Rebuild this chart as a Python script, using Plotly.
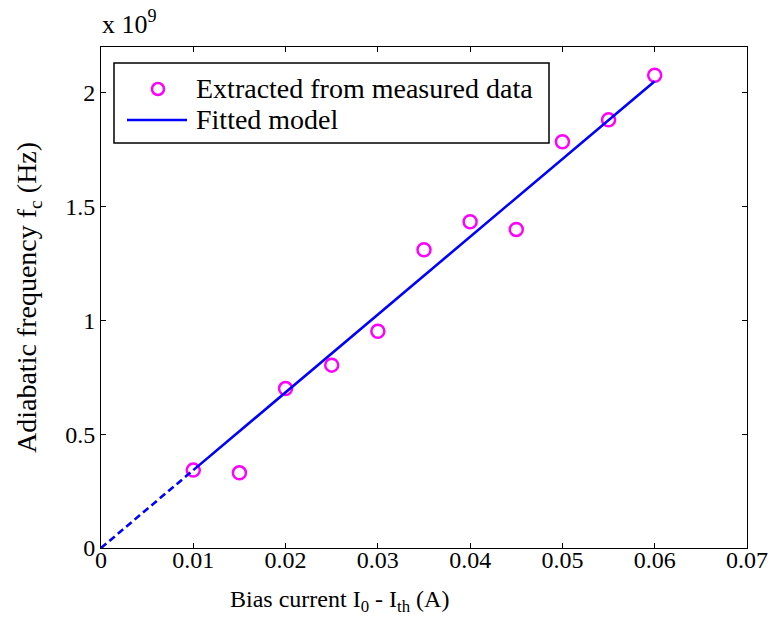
import plotly.graph_objects as go

# Measured adiabatic frequency versus bias current above threshold
current = [0.010, 0.015, 0.020, 0.025, 0.030, 0.035, 0.040, 0.045, 0.050, 0.055, 0.060]
fc_ghz = [0.342, 0.330, 0.700, 0.803, 0.952, 1.310, 1.433, 1.399, 1.784, 1.880, 2.076]  # x 1e9 Hz

# Linear model through the origin: extrapolated part (dashed) and fitted range (solid)
ext_current = [0.0, 0.010]
ext_fc = [0.0, 0.342]
fit_current = [0.010, 0.060]
fit_fc = [0.342, 2.050]

x_ticks = [0, 0.01, 0.02, 0.03, 0.04, 0.05, 0.06, 0.07]
x_ticktext = ["0", "0.01", "0.02", "0.03", "0.04", "0.05", "0.06", "0.07"]
y_ticks = [0, 0.5, 1, 1.5, 2]
y_ticktext = ["0", "0.5", "1", "1.5", "2"]

FONT = "Liberation Serif"
BLUE = "#0000FF"
MAGENTA = "#FF00FF"

W, H = 773, 625
L, R, T, B = 101, 26, 47, 77
PW, PH = W - L - R, H - T - B


def px(x):
    return (x - L) / PW


def py(y):
    return (H - B - y) / PH


fig = go.Figure()
fig.add_trace(go.Scatter(
    x=current, y=fc_ghz, mode="markers", name="Extracted from measured data",
    marker=dict(symbol="circle-open", size=13, color=MAGENTA, line=dict(width=2.5, color=MAGENTA)),
    showlegend=False,
))
fig.add_trace(go.Scatter(
    x=fit_current, y=fit_fc, mode="lines", name="Fitted model",
    line=dict(color=BLUE, width=2.6), showlegend=False,
))
fig.add_trace(go.Scatter(
    x=ext_current, y=ext_fc, mode="lines",
    line=dict(color=BLUE, width=2.6, dash="7px,4px"), showlegend=False,
))

axis_common = dict(
    showline=True, linecolor="black", linewidth=1, mirror="allticks",
    ticks="inside", ticklen=5, tickcolor="black", tickwidth=1,
    showgrid=False, zeroline=False, automargin=False,
    tickfont=dict(family=FONT, size=24, color="black"),
)
fig.update_xaxes(range=[0, 0.07], tickvals=x_ticks, ticktext=x_ticktext,
                 ticklabelstandoff=-10, **axis_common)
fig.update_yaxes(range=[0, 2.2], tickvals=y_ticks, ticktext=y_ticktext, **axis_common)

shapes = [
    # legend frame
    dict(type="rect", xref="paper", yref="paper", x0=px(114), x1=px(549), y0=py(143), y1=py(63),
         line=dict(color="black", width=1.5), fillcolor="white", layer="above"),
    # legend marker
    dict(type="circle", xref="paper", yref="paper", x0=px(152), x1=px(164), y0=py(95), y1=py(83),
         line=dict(color=MAGENTA, width=2.5), layer="above"),
    # legend line
    dict(type="line", xref="paper", yref="paper", x0=px(127), x1=px(187), y0=py(120), y1=py(120),
         line=dict(color=BLUE, width=2.6), layer="above"),
]

annotations = [
    dict(text="Extracted from measured data", x=px(194), y=py(88), xref="paper", yref="paper",
         xanchor="left", yanchor="middle", showarrow=False,
         font=dict(family=FONT, size=28, color="black")),
    dict(text="Fitted model", x=px(194), y=py(119), xref="paper", yref="paper",
         xanchor="left", yanchor="middle", showarrow=False,
         font=dict(family=FONT, size=28, color="black")),
    dict(text="x 10<sup>9</sup>", x=px(100), y=py(41), xref="paper", yref="paper",
         xanchor="left", yanchor="bottom", showarrow=False,
         font=dict(family=FONT, size=26, color="black")),
    dict(text="Bias current I<sub>0</sub> - I<sub>th</sub> (A)", x=px(339), y=py(601), xref="paper",
         yref="paper", xanchor="center", yanchor="middle", showarrow=False,
         font=dict(family=FONT, size=24, color="black")),
    dict(text="Adiabatic frequency f<sub>c</sub> (Hz)", x=px(28), y=py(298), xref="paper",
         yref="paper", xanchor="center", yanchor="middle", showarrow=False, textangle=-90,
         font=dict(family=FONT, size=28, color="black")),
]

fig.update_layout(
    width=W, height=H,
    margin=dict(l=L, r=R, t=T, b=B),
    paper_bgcolor="white", plot_bgcolor="white",
    shapes=shapes, annotations=annotations,
    showlegend=False,
)

fig.write_html("out.html")
